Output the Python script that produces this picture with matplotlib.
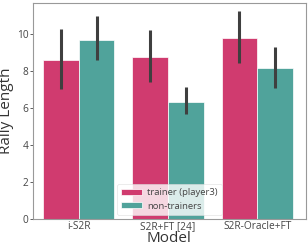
import numpy as np
import matplotlib.pyplot as plt

models = ["i-S2R", "S2R+FT [24]", "S2R-Oracle+FT"]
groups = ["trainer (player3)", "non-trainers"]
means = {
    "trainer (player3)": [8.6, 8.8, 9.8],
    "non-trainers": [9.7, 6.37, 8.2],
}
ci_low = {
    "trainer (player3)": [7.06, 7.44, 8.45],
    "non-trainers": [8.59, 5.67, 7.09],
}
ci_high = {
    "trainer (player3)": [10.31, 10.23, 11.25],
    "non-trainers": [11.01, 7.13, 9.31],
}
colors = ["#d03b6f", "#50a39b"]

plt.rcParams['font.family'] = ['Open Sans', 'DejaVu Sans']

fig = plt.figure(figsize=(3.08, 2.52), dpi=100)
ax = fig.add_axes([0.108, 0.13, 0.884, 0.858])

x = np.arange(len(models))
w = 0.4
for i, g in enumerate(groups):
    pos = x - w / 2 + i * w
    ax.bar(pos, means[g], width=w, color=colors[i], edgecolor="white",
           linewidth=0.5, label=g)
    ax.vlines(pos, ci_low[g], ci_high[g], color="#3f3f3f", linewidth=2.2)

ax.set_xlim(-0.51, 2.54)
ax.set_ylim(0, 11.7)
ax.set_xticks(x)
ax.set_xticklabels(models)
ax.set_yticks([0, 2, 4, 6, 8, 10])
ax.tick_params(axis="both", labelsize=7.3, colors="#444444", length=2, width=0.6,
               pad=1.5)
ax.tick_params(axis="x", length=0)
for s in ax.spines.values():
    s.set_color("#999999")
    s.set_linewidth(0.8)
ax.set_xlabel("Model", fontsize=11, color="#333333", labelpad=-1)
ax.set_ylabel("Rally Length", fontsize=11, color="#333333", labelpad=2)

leg = ax.legend(loc="lower center", fontsize=6.8, frameon=True, framealpha=0.8,
                edgecolor="#dddddd", borderpad=0.4, handlelength=2.2,
                handleheight=0.6, handletextpad=0.6,
                bbox_to_anchor=(0.5, 0.0))
leg.get_frame().set_linewidth(0.5)
for t in leg.get_texts():
    t.set_color("#444444")

fig.savefig("out.png", dpi=100)
